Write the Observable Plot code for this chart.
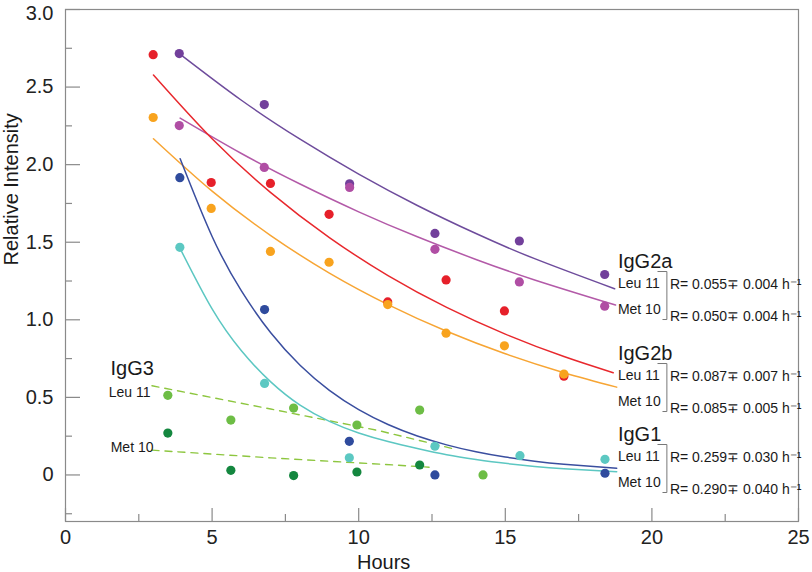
<!DOCTYPE html>
<html><head><meta charset="utf-8">
<script src="https://cdn.jsdelivr.net/npm/d3@7"></script>
<script src="https://cdn.jsdelivr.net/npm/@observablehq/plot@0.6"></script>
<style>
html,body{margin:0;padding:0;background:#fff;}
#chart svg{display:block;}
</style></head><body><div id="chart"></div>
<script>
// ---------- data ----------
const hoursIgG2a = [3.88, 6.78, 9.69, 12.6, 15.48, 18.39];
const igG2aLeu = [2.716, 2.387, 1.877, 1.557, 1.508, 1.292];
const igG2aMet = [2.252, 1.982, 1.853, 1.454, 1.244, 1.088];

const hoursIgG2b = [2.99, 4.97, 6.99, 8.99, 10.99, 12.98, 14.97, 17.0];
const igG2bLeu = [2.709, 1.885, 1.879, 1.68, 1.115, 1.257, 1.057, 0.637];
const igG2bMet = [2.304, 1.718, 1.441, 1.371, 1.098, 0.914, 0.832, 0.65];

const hoursIgG1Leu = [3.9, 6.79, 9.68, 12.6, 15.5, 18.4];
const igG1Leu = [1.467, 0.59, 0.111, 0.185, 0.124, 0.101];
const hoursIgG1Met = [3.9, 6.79, 9.68, 12.6, 18.4];
const igG1Met = [1.916, 1.066, 0.217, 0.0, 0.011];

const hoursIgG3Leu = [3.49, 5.64, 7.78, 9.94, 12.08, 14.24];
const igG3Leu = [0.513, 0.354, 0.431, 0.322, 0.418, 0.0];
const hoursIgG3Met = [3.49, 5.64, 7.78, 9.94, 12.08];
const igG3Met = [0.27, 0.03, -0.004, 0.019, 0.064];

// fitted curves
const fitIgG2aLeuT = [3.88, 6, 8, 10, 12, 14, 16, 18.73];
const fitIgG2aLeuV = [2.716, 2.415, 2.164, 1.939, 1.737, 1.556, 1.394, 1.20];
const fitIgG2aMetT = [3.91, 6, 8, 10, 12, 14, 16, 18.76];
const fitIgG2aMetV = [2.30, 2.072, 1.875, 1.696, 1.535, 1.389, 1.257, 1.095];
const fitIgG2bLeuT = [3.0, 5, 7, 9, 11, 13, 15, 17, 18.68];
const fitIgG2bLeuV = [2.578, 2.167, 1.820, 1.530, 1.285, 1.080, 0.908, 0.763, 0.659];
const fitIgG2bMetT = [3.0, 5, 7, 9, 11, 13, 15, 17, 18.8];
const fitIgG2bMetV = [2.167, 1.829, 1.543, 1.301, 1.098, 0.926, 0.781, 0.659, 0.566];
const fitIgG1MetT = [3.91, 5, 6, 7, 8, 9, 10, 11, 12, 13, 14, 15, 16, 17, 18.8];
const fitIgG1MetV = [2.038, 1.537, 1.186, 0.916, 0.707, 0.545, 0.421, 0.325, 0.251, 0.194, 0.149, 0.115, 0.089, 0.069, 0.043];
const fitIgG1LeuT = [3.91, 5, 6, 7, 8, 9, 10, 11, 12, 13, 14, 15, 16, 17, 18.8];
const fitIgG1LeuV = [1.459, 1.07, 0.80, 0.60, 0.45, 0.345, 0.27, 0.215, 0.17, 0.13, 0.10, 0.075, 0.055, 0.04, 0.021];
const fitIgG3LeuT = [2.95, 7, 10.7, 13.2];
const fitIgG3LeuV = [0.575, 0.425, 0.285, 0.17];
const fitIgG3MetT = [2.95, 7, 10.7, 12.4];
const fitIgG3MetV = [0.16, 0.11, 0.07, 0.05];

// annotation texts
const groupNames = ["IgG2a", "IgG2b", "IgG1"];
const groupAnchorT = [18.84, 18.84, 18.84];
const groupAnchorV = [1.337, 0.744, 0.222];
const rateLeu = ["R= 0.055\u2213 0.004 h\u207B\u00B9", "R= 0.087\u2213 0.007 h\u207B\u00B9", "R= 0.259\u2213 0.030 h\u207B\u00B9"];
const rateMet = ["R= 0.050\u2213 0.004 h\u207B\u00B9", "R= 0.085\u2213 0.005 h\u207B\u00B9", "R= 0.290\u2213 0.040 h\u207B\u00B9"];
const peptideLeu = "Leu 11";
const peptideMet = "Met 10";
const igG3Name = "IgG3";
const igG3AnchorT = 1.535, igG3AnchorV = 0.645;

const yMajor = [0, 0.5, 1.0, 1.5, 2.0, 2.5];
const yTop = [3.0];
const yMinor = [-0.25, 0.25, 0.75, 1.25, 1.75, 2.25, 2.75];
const xMajor = [0, 5, 10, 15, 20, 25];
const xMinor = [2.5, 7.5, 12.5, 17.5, 22.5];

// ---------- layout ----------
const W = 812, H = 572, mL = 65, mR = 14, mT = 9, mB = 51;
const xDomain = [0, 25], yDomain = [-0.3, 3.0];
const pxX = (W - mL - mR) / (xDomain[1] - xDomain[0]);
const pxY = (H - mT - mB) / (yDomain[1] - yDomain[0]);
const FONT = "'Liberation Sans', Arial, Helvetica, sans-serif";

const C = {
  purple: "#72409b", purpleLine: "#6e4c9c",
  magenta: "#b04ea4", magentaLine: "#b35aa8",
  red: "#e6202a", redLine: "#e8282d",
  orange: "#f8a31e", orangeLine: "#f7a534",
  blue: "#2f4b9d", blueLine: "#3a4e9f",
  cyan: "#5cc8c2", cyanLine: "#5cc7c2",
  lgreen: "#6dbd45", dgreen: "#14873f", dash: "#8dc63f"
};

const zipPts = (T, V) => T.map((t, i) => ({t, v: V[i]}));

const series = [
  {pts: zipPts(fitIgG2aLeuT, fitIgG2aLeuV), color: C.purpleLine},
  {pts: zipPts(fitIgG2aMetT, fitIgG2aMetV), color: C.magentaLine},
  {pts: zipPts(fitIgG2bLeuT, fitIgG2bLeuV), color: C.redLine},
  {pts: zipPts(fitIgG2bMetT, fitIgG2bMetV), color: C.orangeLine},
  {pts: zipPts(fitIgG1MetT, fitIgG1MetV), color: C.blueLine},
  {pts: zipPts(fitIgG1LeuT, fitIgG1LeuV), color: C.cyanLine}
];

const dotSets = [
  {pts: zipPts(hoursIgG3Leu, igG3Leu), color: C.lgreen},
  {pts: zipPts(hoursIgG3Met, igG3Met), color: C.dgreen},
  {pts: zipPts(hoursIgG1Met, igG1Met), color: C.blue},
  {pts: zipPts(hoursIgG1Leu, igG1Leu), color: C.cyan},
  {pts: zipPts(hoursIgG2a, igG2aLeu), color: C.purple},
  {pts: zipPts(hoursIgG2a, igG2aMet), color: C.magenta},
  {pts: zipPts(hoursIgG2b, igG2bLeu), color: C.red},
  {pts: zipPts(hoursIgG2b, igG2bMet), color: C.orange}
];

const gi = groupNames.map((_, i) => i);
const brackets = gi.map(i => {
  const T = groupAnchorT[i], V = groupAnchorV[i];
  return [
    {t: T + 40 / pxX, v: V - 4 / pxY},
    {t: T + 49 / pxX, v: V - 4 / pxY},
    {t: T + 49 / pxX, v: V - 52 / pxY},
    {t: T + 45 / pxX, v: V - 52 / pxY}
  ];
});

const txt = {x: i => groupAnchorT[i], y: i => groupAnchorV[i], textAnchor: "start", lineAnchor: "bottom", fill: "#1a1a1a"};
const yFmt = d => d === 0 ? "0" : d.toFixed(1);

const plot = Plot.plot({
  width: W, height: H,
  marginLeft: mL, marginRight: mR, marginTop: mT, marginBottom: mB,
  x: {domain: xDomain},
  y: {domain: yDomain},
  style: {fontFamily: FONT, fontSize: "20px", color: "#222", background: "#fff"},
  marks: [
    Plot.ruleY([...yMajor, ...yTop], {y: d => d, x1: 0, x2: 15 / pxX, stroke: "#8a8a8a", strokeWidth: 1.2}),
    Plot.ruleY(yMinor, {y: d => d, x1: 0, x2: 7 / pxX, stroke: "#8a8a8a", strokeWidth: 1.2}),
    Plot.ruleX(xMajor, {x: d => d, y1: yDomain[0], y2: yDomain[0] + 13 / pxY, stroke: "#8a8a8a", strokeWidth: 1.2}),
    Plot.ruleX(xMinor, {x: d => d, y1: yDomain[0], y2: yDomain[0] + 7 / pxY, stroke: "#8a8a8a", strokeWidth: 1.2}),
    Plot.axisY({ticks: yMajor, tickSize: 0, tickPadding: 12, fontSize: 20, label: null, tickFormat: yFmt, fill: "#222"}),
    Plot.axisY({ticks: yTop, tickSize: 0, tickPadding: 12, fontSize: 20, label: null, tickFormat: yFmt, fill: "#222", dy: 4}),
    Plot.axisX({ticks: xMajor, tickSize: 0, tickPadding: 8, fontSize: 20, label: null, fill: "#222"}),
    Plot.frame({stroke: "#8a8a8a", strokeWidth: 1.2}),
    Plot.line(zipPts(fitIgG3LeuT, fitIgG3LeuV), {x: "t", y: "v", stroke: C.dash, strokeWidth: 1.4, strokeDasharray: "7,6"}),
    Plot.line(zipPts(fitIgG3MetT, fitIgG3MetV), {x: "t", y: "v", stroke: C.dash, strokeWidth: 1.4, strokeDasharray: "7,6"}),
    ...series.map(s => Plot.line(s.pts, {x: "t", y: "v", stroke: s.color, strokeWidth: 1.5, curve: "natural"})),
    ...dotSets.map(s => Plot.dot(s.pts, {x: "t", y: "v", r: 4.6, fill: s.color, stroke: "none"})),
    ...brackets.map(b => Plot.line(b, {x: "t", y: "v", stroke: "#777", strokeWidth: 1})),
    Plot.text(gi, {...txt, text: i => groupNames[i], fontSize: 20}),
    Plot.text(gi, {...txt, text: () => peptideLeu, fontSize: 14, dy: 20}),
    Plot.text(gi, {...txt, text: () => peptideMet, fontSize: 14, dy: 46}),
    Plot.text(gi, {...txt, text: i => rateLeu[i], fontSize: 14, dx: 52, dy: 21}),
    Plot.text(gi, {...txt, text: i => rateMet[i], fontSize: 14, dx: 52, dy: 53}),
    Plot.text([igG3Name], {x: () => igG3AnchorT, y: () => igG3AnchorV, text: d => d, textAnchor: "start", lineAnchor: "bottom", fontSize: 20, fill: "#1a1a1a"}),
    Plot.text([peptideLeu], {x: () => igG3AnchorT, y: () => igG3AnchorV, text: d => d, textAnchor: "end", lineAnchor: "bottom", fontSize: 14, dx: 40, dy: 22, fill: "#1a1a1a"}),
    Plot.text([peptideMet], {x: () => igG3AnchorT, y: () => igG3AnchorV, text: d => d, textAnchor: "end", lineAnchor: "bottom", fontSize: 14, dx: 43, dy: 77, fill: "#1a1a1a"}),
    Plot.text(["Relative Intensity"], {frameAnchor: "left", rotate: -90, dx: -54, text: d => d, fontSize: 20, fill: "#1a1a1a"}),
    Plot.text(["Hours"], {x: () => 10.85, frameAnchor: "bottom", lineAnchor: "bottom", dy: 47, text: d => d, fontSize: 20, fill: "#1a1a1a"})
  ]
});
document.getElementById("chart").appendChild(plot);
</script></body></html>
